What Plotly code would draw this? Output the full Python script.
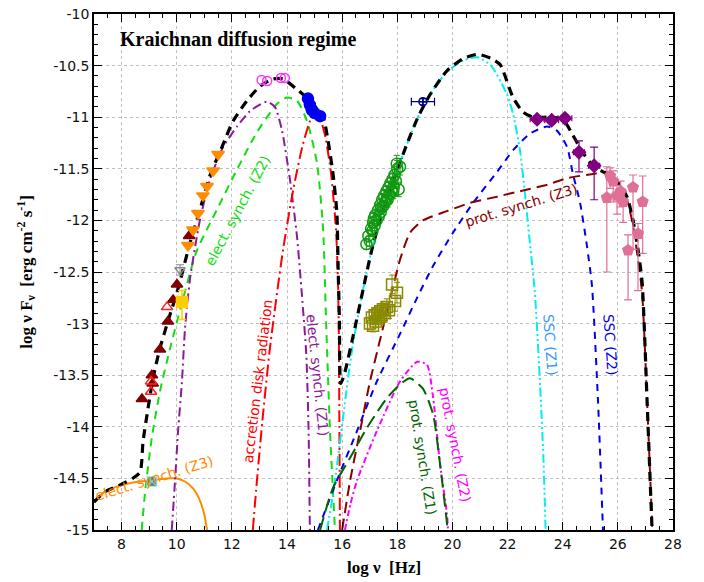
import plotly.graph_objects as go

# ---------------- model curves (log nu, log nuFnu) ----------------
total_x = [7.0, 7.4, 7.9, 8.4, 8.67, 8.78, 8.96, 9.14, 9.39, 9.68, 10.05, 10.48, 10.84, 11.2, 11.64, 12.04,
           12.55, 13.02, 13.49, 13.86, 14.36, 14.83, 15.31, 15.49, 15.67, 15.81, 15.85, 15.9, 15.95, 16.1,
           16.39, 16.76, 17.08, 17.48, 17.92, 18.35, 18.75, 19.19, 19.8, 20.4, 20.93, 21.4, 21.73, 22.2,
           22.56, 22.92, 23.54, 24.0, 24.34, 24.7, 25.1, 25.6, 26.0, 26.33, 26.55, 26.73, 26.88, 27.06, 27.24]
total_y = [-14.73, -14.63, -14.57, -14.5, -14.44, -14.14, -13.82, -13.53, -13.24, -12.98, -12.66, -12.22,
           -11.9, -11.57, -11.29, -11.04, -10.84, -10.70, -10.63, -10.63, -10.73, -10.84, -11.0, -11.23,
           -11.55, -11.93, -12.41, -12.96, -13.58, -13.47, -13.13, -12.67, -12.28, -11.9, -11.57, -11.26,
           -11.0, -10.78, -10.55, -10.43, -10.39, -10.43, -10.49, -10.81, -10.95, -11.0, -11.0, -11.02,
           -11.16, -11.33, -11.47, -11.55, -11.64, -11.77, -12.0, -12.28, -12.6, -13.75, -15.0]

esyn_z3_x = [7.0, 7.33, 7.83, 8.41, 9.0, 9.6, 10.0, 10.3, 10.6, 10.85, 11.0, 11.1]
esyn_z3_y = [-14.73, -14.64, -14.58, -14.54, -14.52, -14.5, -14.5, -14.53, -14.6, -14.72, -14.85, -15.0]

esyn_z2_x = [8.73, 8.85, 9.1, 9.39, 9.76, 10.19, 10.72, 11.45, 12.2, 12.9, 13.64, 14.0, 14.36, 14.73,
             15.09, 15.31, 15.42, 15.56, 15.74]
esyn_z2_y = [-15.0, -14.64, -14.1, -13.66, -13.24, -12.8, -12.3, -11.9, -11.5, -11.15, -10.87, -10.81,
             -10.84, -11.04, -11.45, -12.09, -13.0, -14.04, -15.0]

esyn_z1_x = [9.82, 9.94, 10.05, 10.19, 10.3, 10.48, 10.84, 11.2, 11.68, 12.19, 12.66, 13.27, 13.56, 13.82,
             14.11, 14.36, 14.54, 14.7, 14.78, 14.83]
esyn_z1_y = [-15.0, -14.52, -14.04, -13.56, -13.05, -12.57, -12.0, -11.61, -11.29, -11.09, -10.94, -10.85,
             -10.9, -11.13, -11.61, -12.15, -12.72, -13.3, -14.0, -15.0]

disk_x = [12.76, 12.91, 13.13, 13.38, 13.64, 13.86, 14.22, 14.58, 14.91, 15.12, 15.2, 15.4, 15.6, 15.78,
          15.85, 15.88, 15.9, 15.92]
disk_y = [-15.0, -14.52, -13.88, -13.24, -12.7, -12.28, -11.71, -11.26, -10.99, -10.95, -11.0, -11.2,
          -11.55, -12.1, -12.6, -13.1, -14.0, -15.0]

ssc_z1_x = [15.45, 15.7, 16.2, 16.39, 16.76, 17.08, 17.48, 17.92, 18.35, 18.75, 19.19, 19.8, 20.4, 20.9,
            21.4, 21.98, 22.2, 22.45, 22.63, 22.81, 22.99, 23.18, 23.3, 23.38]
ssc_z1_y = [-15.0, -14.6, -13.56, -13.2, -12.67, -12.28, -11.9, -11.57, -11.26, -11.0, -10.78, -10.56,
            -10.45, -10.42, -10.5, -10.78, -10.97, -11.32, -11.74, -12.22, -12.7, -13.6, -14.3, -15.0]

ssc_z2_x = [15.12, 15.81, 16.54, 17.26, 18.1, 18.7, 19.3, 20.02, 20.75, 21.62, 22.2, 22.81, 23.43, 23.79,
            24.16, 24.37, 24.63, 24.88, 25.06, 25.28, 25.46]
ssc_z2_y = [-15.0, -14.52, -14.04, -13.56, -13.1, -12.76, -12.44, -12.12, -11.83, -11.53, -11.32, -11.16,
            -11.09, -11.13, -11.29, -11.55, -11.83, -12.25, -12.63, -13.75, -15.0]

psyn_z3_x = [16.0, 16.29, 16.65, 17.01, 17.4, 17.74, 18.1, 18.46, 18.93, 19.8, 20.64, 21.62, 22.56, 23.5,
             24.16, 25.1, 25.6, 25.97, 26.33, 26.55, 26.73, 26.88, 27.06, 27.25]
psyn_z3_y = [-15.0, -14.52, -14.04, -13.56, -13.13, -12.76, -12.38, -12.12, -12.0, -11.91, -11.83, -11.77,
             -11.71, -11.65, -11.59, -11.55, -11.53, -11.61, -11.8, -12.05, -12.38, -12.7, -13.75, -15.0]

psyn_z2_x = [16.1, 16.3, 16.54, 17.26, 18.1, 18.72, 19.08, 19.3, 19.55, 19.8, 19.84]
psyn_z2_y = [-15.0, -14.75, -14.52, -14.04, -13.56, -13.37, -13.4, -13.72, -14.36, -14.84, -15.0]

psyn_z1_x = [15.2, 15.67, 16.29, 16.9, 17.63, 18.1, 18.46, 18.93, 19.3, 19.55, 19.8, 19.82]
psyn_z1_y = [-15.0, -14.59, -14.3, -14.01, -13.72, -13.59, -13.53, -13.63, -13.88, -14.36, -14.93, -15.0]

# ---------------- observational data ----------------
radio_tri_x = [8.74, 9.1, 9.13, 9.39, 9.68, 9.87, 10.01, 10.45]
radio_tri_y = [-13.73, -13.5, -13.58, -13.25, -12.98, -12.77, -12.62, -12.15]

open_tri_x = [9.07, 9.07, 9.65]
open_tri_y = [-13.56, -13.66, -12.84]

gold_x = [10.19]
gold_y = [-12.79]
gold_up = [0.11]
gold_dn = [0.17]

grey_x = [10.12]
grey_y = [-12.48]

ir_x = [10.41, 10.59, 10.77, 10.95, 11.1, 11.32, 11.5]
ir_y = [-12.24, -12.09, -11.93, -11.76, -11.67, -11.52, -11.36]

teal_x = [9.1]
teal_y = [-14.53]

opt_open_x = [13.08, 13.28, 13.78, 13.92]
opt_open_y = [-10.64, -10.65, -10.62, -10.62]

uv_x = [14.76, 14.83, 14.9, 15.0, 15.2]
uv_y = [-10.82, -10.88, -10.93, -10.96, -10.99]

xray_x = [16.88, 16.95, 17.0, 17.05, 17.1, 17.12, 17.18, 17.2, 17.25, 17.3, 17.33, 17.38, 17.4, 17.45, 17.5,
          17.52, 17.57, 17.6, 17.65, 17.68, 17.72, 17.75, 17.8, 17.83, 17.87, 17.9, 17.95, 18.0, 18.05, 18.1,
          17.15, 17.42, 17.62, 17.85, 17.98]
xray_y = [-12.23, -12.15, -12.2, -12.08, -12.1, -12.02, -12.05, -11.95, -12.0, -11.9, -11.96, -11.85,
          -11.92, -11.8, -11.86, -11.76, -11.82, -11.72, -11.8, -11.68, -11.75, -11.64, -11.72, -11.6,
          -11.68, -11.56, -11.62, -11.5, -11.7, -11.48, -11.98, -11.88, -11.78, -11.72, -11.45]
xray_err = [0.05, 0.06, 0.05, 0.06, 0.05, 0.06, 0.05, 0.06, 0.05, 0.06, 0.05, 0.06, 0.05, 0.06, 0.05,
            0.06, 0.05, 0.06, 0.07, 0.06, 0.07, 0.06, 0.07, 0.06, 0.07, 0.08, 0.07, 0.08, 0.07, 0.08,
            0.05, 0.06, 0.06, 0.07, 0.08]

hx_x = [17.01, 17.08, 17.12, 17.18, 17.22, 17.28, 17.32, 17.38, 17.42, 17.48, 17.55, 17.62, 17.7, 17.81,
        17.92, 17.99]
hx_y = [-13.0, -12.94, -13.02, -12.92, -12.98, -12.9, -12.95, -12.88, -12.93, -12.86, -12.9, -12.84,
        -12.87, -12.62, -12.78, -12.7]
hx_err = [0.06, 0.07, 0.06, 0.07, 0.06, 0.07, 0.06, 0.07, 0.06, 0.07, 0.07, 0.08, 0.08, 0.09, 0.1, 0.1]

batx_x = [18.93]
batx_y = [-10.85]
batx_xerr = [0.42]

fermi_x = [23.07, 23.6, 24.08, 24.59, 25.14]
fermi_y = [-11.02, -11.03, -11.01, -11.34, -11.47]
fermi_xerr = [0.25, 0.25, 0.25, 0.2, 0.2]
fermi_up = [0.03, 0.03, 0.03, 0.11, 0.18]
fermi_dn = [0.03, 0.03, 0.03, 0.19, 0.33]

tev_x = [25.6, 25.72, 25.83, 25.97, 26.1, 26.19, 26.37, 26.55, 26.73, 26.9]
tev_y = [-11.78, -11.57, -11.62, -11.76, -11.72, -11.82, -12.29, -11.68, -12.13, -11.82]
tev_up = [0.3, 0.08, 0.1, 0.1, 0.1, 0.1, 0.15, 0.12, 0.1, 0.25]
tev_dn = [0.72, 0.12, 0.2, 0.18, 0.15, 0.2, 0.48, 0.6, 0.55, 0.5]

x_ticks = [8, 10, 12, 14, 16, 18, 20, 22, 24, 26, 28]
x_ticktext = ["8", "10", "12", "14", "16", "18", "20", "22", "24", "26", "28"]
y_ticks = [-10, -10.5, -11, -11.5, -12, -12.5, -13, -13.5, -14, -14.5, -15]
y_ticktext = ["-10", "-10.5", "-11", "-11.5", "-12", "-12.5", "-13", "-13.5", "-14", "-14.5", "-15"]

fig = go.Figure()


def line(x, y, color, dash, width=2):
    fig.add_trace(go.Scatter(x=x, y=y, mode="lines", line=dict(color=color, dash=dash, width=width,
                                                               shape="spline", smoothing=0.6),
                             hoverinfo="skip"))


line(esyn_z3_x, esyn_z3_y, "#ff8c00", "solid", 2)
line(esyn_z2_x, esyn_z2_y, "#11dd11", "8px,6px", 2)
line(esyn_z1_x, esyn_z1_y, "#8b1a9b", "9px,4px,2px,4px", 2)
line(disk_x, disk_y, "#ff0000", "12px,4px,2px,4px", 2)
line(ssc_z1_x, ssc_z1_y, "#00eeee", "9px,3px,2px,3px,2px,3px", 2)
line(ssc_z2_x, ssc_z2_y, "#0000ee", "7px,6px", 2)
line(psyn_z3_x, psyn_z3_y, "#8b0000", "11px,6px", 2)
line(psyn_z2_x, psyn_z2_y, "#ff00ff", "6px,3px,2px,3px", 2)
line(psyn_z1_x, psyn_z1_y, "#006400", "13px,6px", 2)
line(total_x, total_y, "#000000", "9px,6px", 3.2)


def pts(x, y, symbol, color, size=10, ey=None, ex=None, lw=1.5):
    fig.add_trace(go.Scatter(x=x, y=y, mode="markers",
                             marker=dict(symbol=symbol, color=color, size=size,
                                         line=dict(color=color, width=lw)),
                             error_y=ey, error_x=ex, hoverinfo="skip"))


pts(radio_tri_x, radio_tri_y, "triangle-up", "#800000", 10)
pts(open_tri_x, open_tri_y, "triangle-up-open", "#ff2020", 10)
pts(grey_x, grey_y, "triangle-down-open", "#888888", 9,
    ey=dict(type="data", array=[0.05], arrayminus=[0.05], color="#888888", thickness=1, width=4))
pts(gold_x, gold_y, "square", "#ffcc00", 11,
    ey=dict(type="data", array=gold_up, arrayminus=gold_dn, color="#ffcc00", thickness=1.5, width=4))
pts(ir_x, ir_y, "triangle-down", "#ff8c00", 11)
fig.add_trace(go.Scatter(x=teal_x, y=teal_y, mode="markers",
                         marker=dict(symbol="square-x", color="#3a9a9a", size=10,
                                     line=dict(color="#bfe3e3", width=1)), hoverinfo="skip"))
pts(opt_open_x, opt_open_y, "circle-open", "#ff33ff", 9)
pts(uv_x, uv_y, "circle", "#0000ee", 11)
pts(xray_x, xray_y, "circle-open", "#119911", 11,
    ey=dict(type="data", array=xray_err, color="#119911", thickness=1, width=3))
pts(hx_x, hx_y, "square-open", "#8a8a00", 11,
    ey=dict(type="data", array=hx_err, color="#8a8a00", thickness=1, width=3))
pts(batx_x, batx_y, "circle-cross-open", "#000080", 8,
    ex=dict(type="data", array=batx_xerr, color="#000080", thickness=1.2, width=4),
    ey=dict(type="data", array=[0.03], color="#000080", thickness=1.2, width=3))
pts(fermi_x, fermi_y, "diamond", "#800080", 10,
    ey=dict(type="data", array=fermi_up, arrayminus=fermi_dn, color="#800080", thickness=1.2, width=4),
    ex=dict(type="data", array=fermi_xerr, color="#800080", thickness=1.2, width=3))
pts(tev_x, tev_y, "pentagon", "#e07095", 11,
    ey=dict(type="data", array=tev_up, arrayminus=tev_dn, color="#e07095", thickness=1.2, width=4))

labels = [
    ("elect. synch. (Z2)", 12.22, -11.9, -62, "#11dd11"),
    ("elect. synch. (Z1)", 15.1, -13.5, 84, "#8b1a9b"),
    ("accretion disk radiation", 12.95, -13.56, -83, "#ff0000"),
    ("elect. synch. (Z3)", 9.21, -14.5, -17, "#ff8c00"),
    ("prot. synch. (Z3)", 22.52, -11.85, -17, "#8b0000"),
    ("SSC (Z1)", 23.54, -13.2, 86, "#3399ff"),
    ("SSC (Z2)", 25.72, -13.2, 86, "#0000ee"),
    ("prot. synch. (Z1)", 18.93, -14.3, 81, "#006400"),
    ("prot. synch. (Z2)", 20.09, -14.18, 79, "#ff00ff"),
]
for txt, x, y, ang, col in labels:
    fig.add_annotation(x=x, y=y, xref="x", yref="y", text=txt, showarrow=False, textangle=ang,
                       font=dict(family="DejaVu Sans", size=14, color=col))

fig.add_annotation(x=7.87, y=-10.25, xref="x", yref="y", xanchor="left", text="<b>Kraichnan diffusion regime</b>",
                   showarrow=False, font=dict(family="Liberation Serif", size=20, color="black"))

# axis titles as paper annotations
fig.add_annotation(x=0.5, y=-0.073, xref="paper", yref="paper", yanchor="middle",
                   text="<b>log ν  [Hz]</b>", showarrow=False,
                   font=dict(family="Liberation Serif", size=17, color="black"))
fig.add_annotation(x=-0.118, y=0.5, xref="paper", yref="paper", xanchor="center", textangle=-90,
                   text="<b>log ν F<sub>ν</sub>  [erg cm<sup>-2</sup> s<sup>-1</sup>]</b>", showarrow=False,
                   font=dict(family="Liberation Serif", size=17, color="black"))

axis_common = dict(showline=True, linecolor="black", linewidth=1.5, mirror="ticks", ticks="inside",
                   ticklen=8, tickwidth=1.2, tickcolor="black", showgrid=True, gridcolor="#c0c0c0",
                   griddash="dot", gridwidth=1, zeroline=False, automargin=False,
                   ticklabeloverflow="allow",
                   tickfont=dict(family="DejaVu Sans", size=14, color="#111"))

# the page body adds an 8px offset, so the figure is shrunk/shifted to keep the plot box in place
fig.update_layout(
    width=696, height=574, margin=dict(l=86, r=31, t=6, b=52),
    paper_bgcolor="white", plot_bgcolor="white", showlegend=False,
    xaxis=dict(range=[7, 28], tickvals=x_ticks, ticktext=x_ticktext,
               minor=dict(dtick=0.5, ticks="inside", ticklen=4, tickcolor="black", showgrid=False),
               **axis_common),
    yaxis=dict(range=[-15, -10], tickvals=y_ticks, ticktext=y_ticktext,
               minor=dict(dtick=0.1, ticks="inside", ticklen=4, tickcolor="black", showgrid=False),
               **axis_common),
)

fig.write_html("out.html")
